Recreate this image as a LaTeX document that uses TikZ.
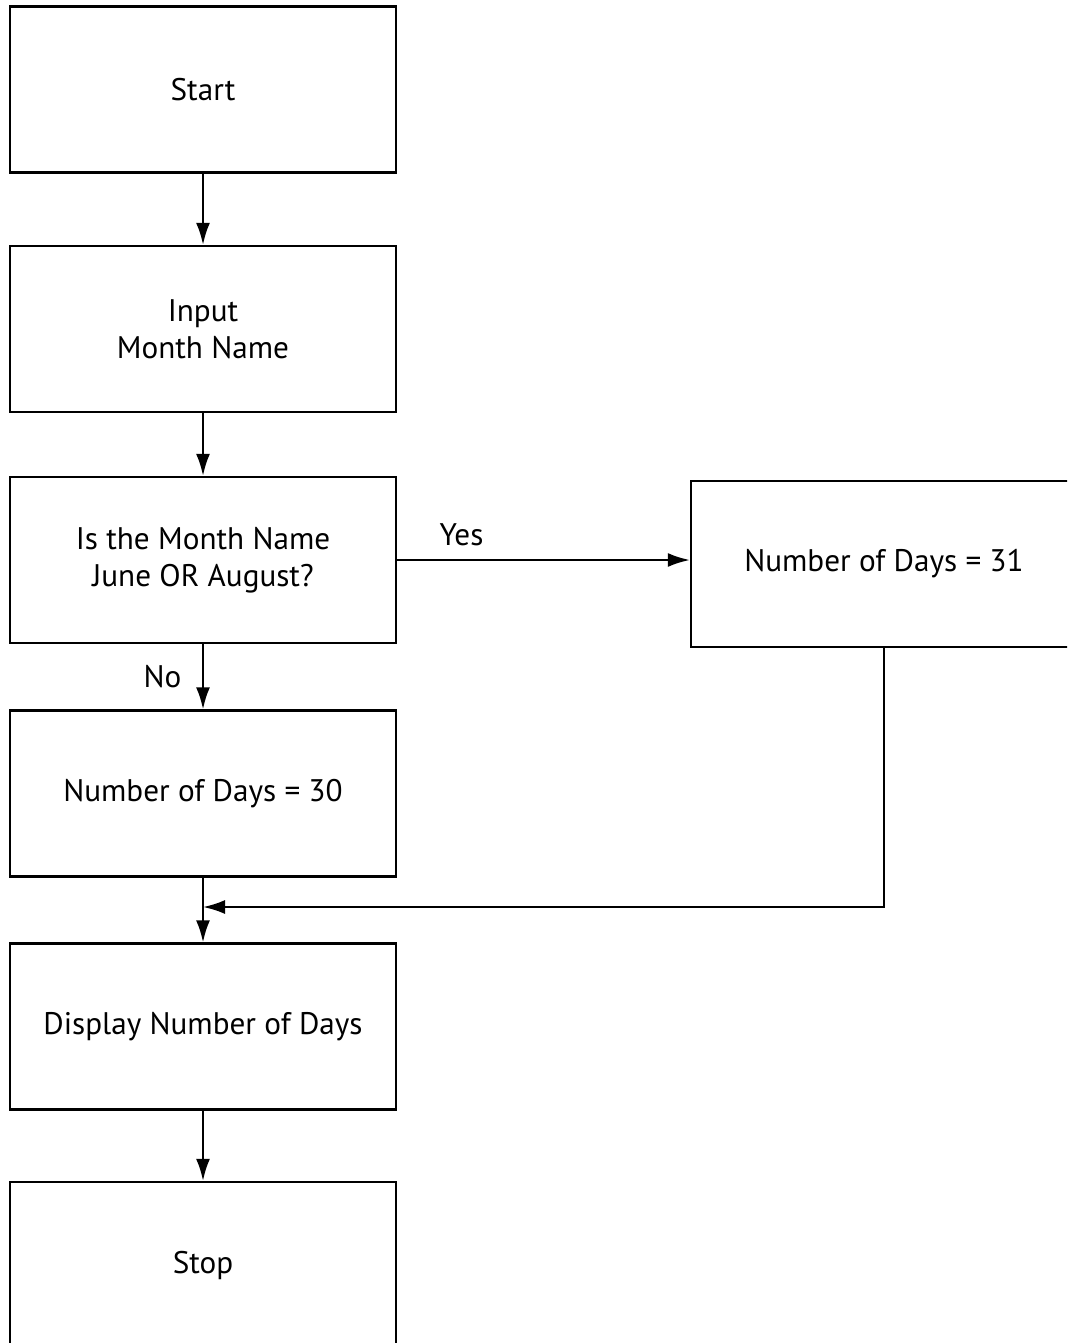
\documentclass[tikz,border=0pt]{standalone}
\usepackage{fontspec}
\setmainfont{PT Sans}
\usetikzlibrary{arrows.meta,positioning}
\tikzset{
    basic/.style = {draw, rectangle, line width=1.2pt, align=center, inner sep=0pt,
                    font=\fontsize{15.6}{18.5}\selectfont},
    box/.style   = {basic, minimum width=193pt, minimum height=83pt},
    flow/.style  = {-{Latex[length=11pt,width=7pt]}, line width=1.1pt},
    lbl/.style   = {font=\fontsize{15.6}{18.5}\selectfont}
}
\begin{document}
\begin{tikzpicture}[x=0.5pt,y=-0.5pt]
	\useasboundingbox (0,0) rectangle (1067,1343);
	\clip (0,0) rectangle (1067,1343);
		% left column
		\node[box] (start) at (203,89.5) {Start};
		\node[box] (input) at (203,329) {Input\\Month Name};
		\node[box] (dec) at (203,560) {Is the Month Name\\June OR August?};
		\node[box] (d30) at (203,793.5) {Number of Days = 30};
		\node[box] (disp) at (203,1026.5) {Display Number of Days};
		\node[box] (stop) at (203,1265) {Stop};
		% right branch
		\node[box] (d31) at (884,564) {Number of Days = 31};
		\coordinate (bend) at (884,907);
		\coordinate (join) at (203,907);
		\draw[flow] (start) -- (input);
		\draw[flow] (input) -- (dec);
		\draw[flow] (dec) -- node[lbl, left=7pt] {No} (d30);
		\draw[flow] (dec.east) -- node[lbl, above=3pt, pos=0.22] {Yes} (dec.east -| d31.west);
		\draw[flow] (d30) -- (disp);
		\draw[flow] (d31.south) -- (bend) -- (join);
		\draw[flow] (disp) -- (stop);
\end{tikzpicture}
\end{document}
